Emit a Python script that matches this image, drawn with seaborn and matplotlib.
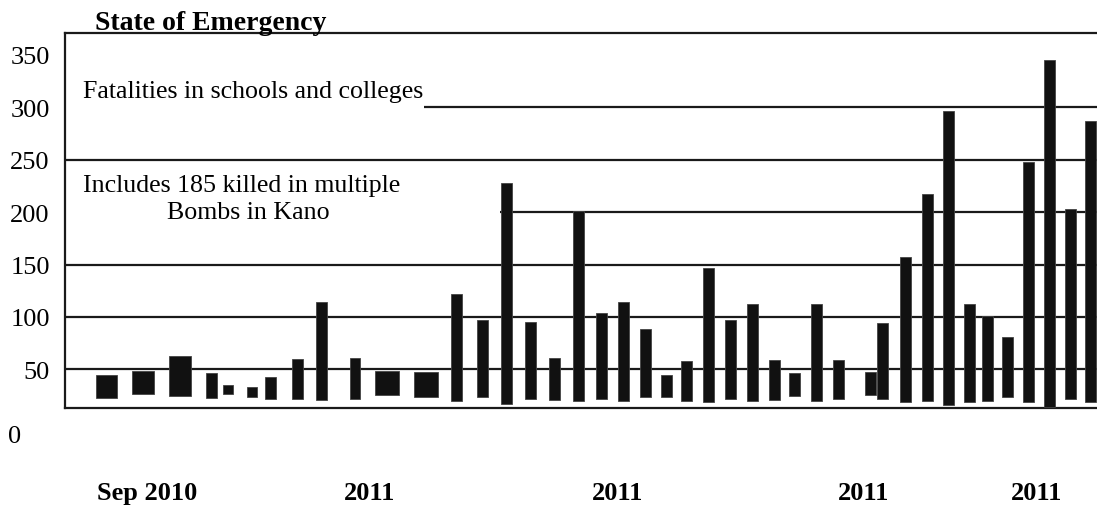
import numpy as np
import matplotlib
matplotlib.use("Agg")
import matplotlib.pyplot as plt
import seaborn as sns

# position of each bar along the timeline, its width, and its low / high ends
bar_pos = [41.5, 78, 115, 146.5, 163, 187, 205.5, 232.5, 256.5, 290, 322, 361,
           391, 417, 441, 465, 489, 513, 536.5, 558.5, 580.5, 601, 621, 643,
           665, 687, 709, 729, 751, 773, 805, 817.5, 840, 862, 883, 904,
           922, 942, 963, 984, 1005, 1025.5]
bar_width = [21.6, 22, 22, 11, 10.6, 10.6, 11, 11, 11, 10.6, 23.3, 23.4] + [11] * 30
bar_low = [22.8, 26.3, 25.0, 22.8, 26.3, 23.7, 21.5, 21.5, 21.1, 21.5, 25.3, 23.7,
           20.2, 24.0, 17.3, 21.5, 20.6, 19.6, 21.5, 19.9, 23.4, 23.4, 19.9, 18.9,
           21.5, 20.2, 20.6, 25.0, 20.2, 21.8, 25.3, 21.8, 18.9, 20.2, 16.1, 18.9,
           20.2, 24.0, 18.7, 14.5, 21.5, 18.7]
bar_high = [45.0, 48.5, 62.8, 46.3, 35.4, 33.0, 43.1, 59.7, 114.0, 60.6, 48.5, 47.3,
            122.2, 96.8, 227.4, 94.9, 61.2, 200.7, 103.5, 114.6, 88.5, 44.7, 58.0, 146.4,
            96.8, 112.7, 59.3, 46.9, 112.1, 59.3, 47.3, 94.0, 156.9, 217.2, 296.4, 112.1,
            101.2, 81.2, 247.7, 344.7, 203.2, 287.1]

y_ticks = [50, 100, 150, 200, 250, 300, 350]
x_labels = ["Sep 2010", "2011", "2011", "2011", "2011"]
x_label_pos = [82, 305, 553, 799, 972]

sns.set_theme(style="white")
plt.rcParams["font.family"] = ["Liberation Serif", "DejaVu Serif"]
plt.rcParams["text.color"] = "black"

fig = plt.figure(figsize=(10.97, 5.06), dpi=100)
ax = fig.add_axes([65 / 1097, 97 / 506, 1032 / 1097, 375 / 506])

heights = np.array(bar_high) - np.array(bar_low)
ax.bar(bar_pos, heights, width=bar_width, bottom=bar_low, color="#111111",
       edgecolor="#444444", linewidth=0.6, zorder=3)

# horizontal rules (two of them stop short of the notes)
for v in [50, 100, 150, 250]:
    ax.axhline(v, color="#1a1a1a", lw=1.6, zorder=1)
ax.hlines(300, 359, 1032, color="#1a1a1a", lw=1.6, zorder=1)
ax.hlines(200, 435, 1032, color="#1a1a1a", lw=1.6, zorder=1)

ax.set_xlim(0, 1032)
ax.set_ylim(13.2, 370.7)
sns.despine(ax=ax, right=True, top=False, left=False, bottom=False)
for s in ["left", "top", "bottom"]:
    ax.spines[s].set_color("#1a1a1a")
    ax.spines[s].set_linewidth(1.6)

ax.set_yticks(y_ticks)
ax.set_yticklabels([str(t) for t in y_ticks], fontsize=19)
ax.tick_params(axis="y", length=0, pad=11, colors="black")
ax.set_xticks([])
fig.text(8 / 1097, (506 - 437) / 506, "0", fontsize=19, va="center", ha="left")

for xp, lab in zip(x_label_pos, x_labels):
    ax.text(xp, (409 - 500) / 375, lab, transform=ax.get_xaxis_transform(),
            fontsize=19, fontweight="bold", ha="center", va="baseline")

fig.text(95 / 1097, (506 - 30) / 506, "State of Emergency", fontsize=20,
         fontweight="bold", ha="left", va="baseline")
ax.text(18, 310, "Fatalities in schools and colleges", fontsize=18.6, va="baseline")
ax.text(18, 220, "Includes 185 killed in multiple", fontsize=18.6, va="baseline")
ax.text(102, 194, "Bombs in Kano", fontsize=18.6, va="baseline")

fig.savefig("out.png", dpi=100)
